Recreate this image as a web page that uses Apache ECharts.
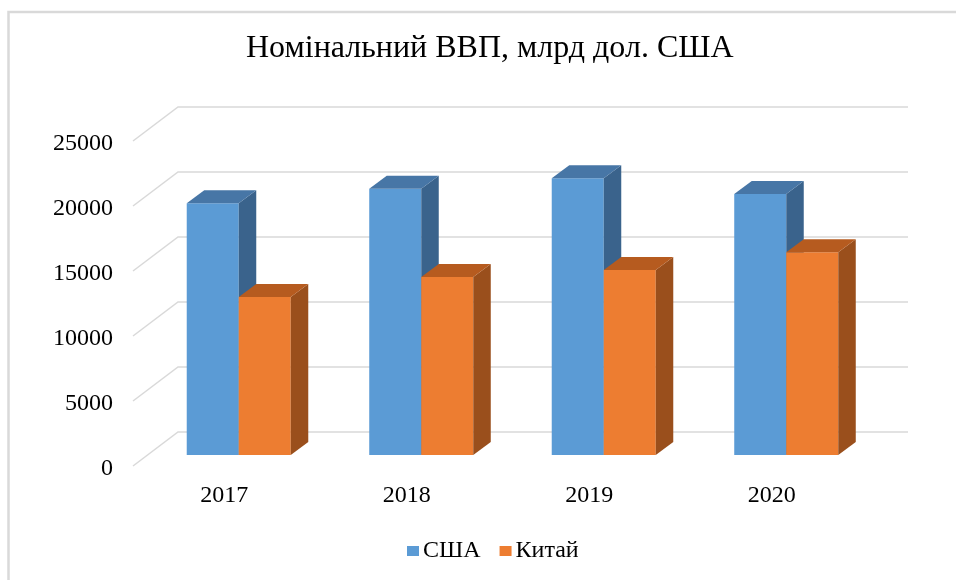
<!DOCTYPE html>
<html>
<head>
<meta charset="utf-8">
<script src="https://cdn.jsdelivr.net/npm/echarts@6/dist/echarts.min.js"></script>
<style>html,body{margin:0;padding:0;background:#fff}#c{width:956px;height:580px}</style>
</head>
<body>
<div id="c"></div>
<script>
var titleText = 'Номінальний ВВП, млрд дол. США';
var categories = ['2017', '2018', '2019', '2020'];
var seriesNames = ['США', 'Китай'];
var usaValues = [19360, 20480, 21280, 20080];
var chinaValues = [12150, 13690, 14230, 15590];
var yTicks = [0, 5000, 10000, 15000, 20000, 25000];

var FONT = '"Liberation Serif", "Times New Roman", serif';
var DX = 17.5, DY = -13;          // bar depth offset
var FRONT = [-14.5, 11];          // bar plane -> front floor edge
var BACK = [30.5, -23];           // bar plane -> back wall

var palettes = [
  {front: '#5B9BD5', top: '#4776A6', side: '#3A638C'},
  {front: '#ED7D31', top: '#B65B1F', side: '#9A4F1C'}
];

function barRender(idx) {
  var pal = palettes[idx];
  return function (params, api) {
    var cat = api.value(0), v = api.value(1);
    var base = api.coord([cat, 0]);
    var topP = api.coord([cat, v]);
    var band = api.size([1, 0])[0];
    var w = band * 0.285;
    var x1 = idx === 0 ? base[0] - w : base[0];
    var x2 = x1 + w;
    var yT = topP[1], yB = base[1];
    return {
      type: 'group',
      children: [
        {type: 'rect', shape: {x: x1, y: yT, width: w, height: yB - yT}, style: {fill: pal.front}},
        {type: 'polygon', shape: {points: [[x2, yT], [x2 + DX, yT + DY], [x2 + DX, yB + DY], [x2, yB]]}, style: {fill: pal.side}},
        {type: 'polygon', shape: {points: [[x1, yT], [x2, yT], [x2 + DX, yT + DY], [x1 + DX, yT + DY]]}, style: {fill: pal.top}}
      ]
    };
  };
}

function gridRender(params, api) {
  var cs = params.coordSys;
  var y = api.coord([0, api.value(1)])[1];
  return {
    type: 'polyline',
    shape: {points: [
      [cs.x + FRONT[0], y + FRONT[1]],
      [cs.x + BACK[0], y + BACK[1]],
      [cs.x + cs.width + BACK[0], y + BACK[1]]
    ]},
    style: {stroke: '#d9d9d9', lineWidth: 1.5, fill: null}
  };
}

var chart = echarts.init(document.getElementById('c'), null, {renderer: 'canvas'});
chart.setOption({
  animation: false,
  backgroundColor: '#fff',
  title: {
    text: titleText, left: 246, top: 33, padding: 0,
    textStyle: {fontFamily: FONT, fontSize: 32, fontWeight: 'normal', color: '#000'}
  },
  legend: {
    data: seriesNames, left: 407, top: 539, padding: 0,
    icon: 'rect', itemWidth: 12, itemHeight: 10, itemGap: 19,
    textStyle: {fontFamily: FONT, fontSize: 24, color: '#000', padding: [0, 0, 0, -1]}
  },
  graphic: [{
    type: 'polyline', silent: true,
    shape: {points: [[8.5, 580], [8.5, 12], [956, 12]]},
    style: {stroke: '#d9d9d9', lineWidth: 2.5, fill: null}
  }],
  grid: [
    {left: 147.5, width: 730, top: 130, height: 325},
    {left: 133, width: 730, top: 144, height: 325}
  ],
  xAxis: [
    {type: 'category', data: categories, gridIndex: 0, show: false},
    {type: 'category', data: categories, gridIndex: 1,
      axisLine: {show: false}, axisTick: {show: false},
      axisLabel: {fontFamily: FONT, fontSize: 24, color: '#000', margin: 15}}
  ],
  yAxis: [
    {type: 'value', min: 0, max: 25000, interval: 5000, gridIndex: 0, show: false},
    {type: 'value', min: 0, max: 25000, interval: 5000, gridIndex: 1,
      axisLine: {show: false}, axisTick: {show: false}, splitLine: {show: false},
      axisLabel: {fontFamily: FONT, fontSize: 24, color: '#000', margin: 20,
        formatter: function (v) { return String(v); }}}
  ],
  series: [
    {type: 'custom', name: 'grid', xAxisIndex: 0, yAxisIndex: 0, silent: true, z: 1,
      data: yTicks.map(function (t) { return [0, t]; }), renderItem: gridRender},
    {type: 'custom', name: seriesNames[0], xAxisIndex: 0, yAxisIndex: 0, z: 2,
      itemStyle: {color: palettes[0].front},
      data: usaValues.map(function (v, i) { return [i, v]; }), renderItem: barRender(0)},
    {type: 'custom', name: seriesNames[1], xAxisIndex: 0, yAxisIndex: 0, z: 2,
      itemStyle: {color: palettes[1].front},
      data: chinaValues.map(function (v, i) { return [i, v]; }), renderItem: barRender(1)}
  ]
});
</script>
</body>
</html>
